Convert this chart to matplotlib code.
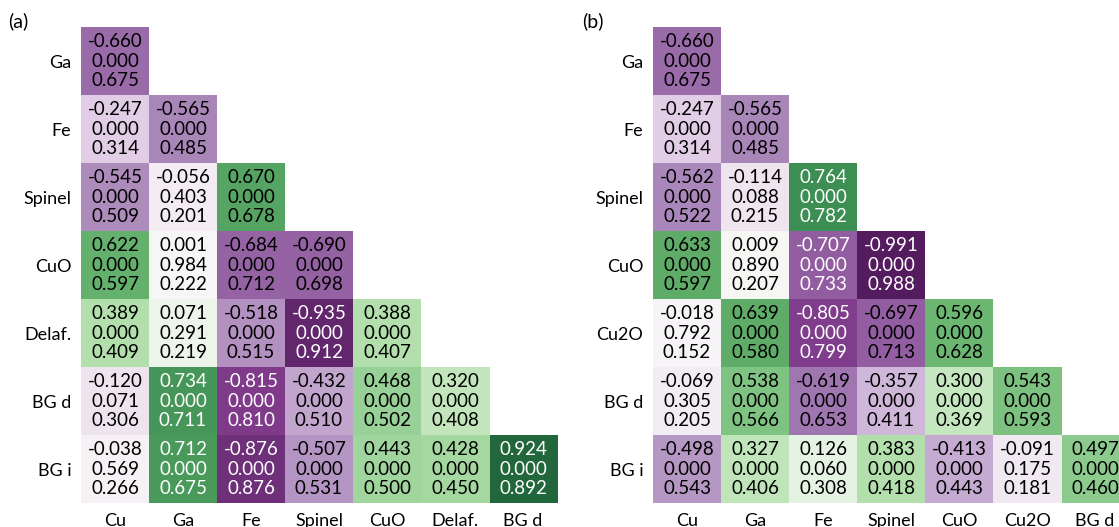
import numpy as np
import matplotlib

matplotlib.use("Agg")
import matplotlib.pyplot as plt

plt.rcParams["font.family"] = ["Lato", "DejaVu Sans"]

# (a) variables
rows_a = ["Ga", "Fe", "Spinel", "CuO", "Delaf.", "BG d", "BG i"]
cols_a = ["Cu", "Ga", "Fe", "Spinel", "CuO", "Delaf.", "BG d"]
r_a = [
    [-0.660],
    [-0.247, -0.565],
    [-0.545, -0.056, 0.670],
    [0.622, 0.001, -0.684, -0.690],
    [0.389, 0.071, -0.518, -0.935, 0.388],
    [-0.120, 0.734, -0.815, -0.432, 0.468, 0.320],
    [-0.038, 0.712, -0.876, -0.507, 0.443, 0.428, 0.924],
]
p_a = [
    [0.000],
    [0.000, 0.000],
    [0.000, 0.403, 0.000],
    [0.000, 0.984, 0.000, 0.000],
    [0.000, 0.291, 0.000, 0.000, 0.000],
    [0.071, 0.000, 0.000, 0.000, 0.000, 0.000],
    [0.569, 0.000, 0.000, 0.000, 0.000, 0.000, 0.000],
]
d_a = [
    [0.675],
    [0.314, 0.485],
    [0.509, 0.201, 0.678],
    [0.597, 0.222, 0.712, 0.698],
    [0.409, 0.219, 0.515, 0.912, 0.407],
    [0.306, 0.711, 0.810, 0.510, 0.502, 0.408],
    [0.266, 0.675, 0.876, 0.531, 0.500, 0.450, 0.892],
]

# (b) variables
rows_b = ["Ga", "Fe", "Spinel", "CuO", "Cu2O", "BG d", "BG i"]
cols_b = ["Cu", "Ga", "Fe", "Spinel", "CuO", "Cu2O", "BG d"]
r_b = [
    [-0.660],
    [-0.247, -0.565],
    [-0.562, -0.114, 0.764],
    [0.633, 0.009, -0.707, -0.991],
    [-0.018, 0.639, -0.805, -0.697, 0.596],
    [-0.069, 0.538, -0.619, -0.357, 0.300, 0.543],
    [-0.498, 0.327, 0.126, 0.383, -0.413, -0.091, 0.497],
]
p_b = [
    [0.000],
    [0.000, 0.000],
    [0.000, 0.088, 0.000],
    [0.000, 0.890, 0.000, 0.000],
    [0.792, 0.000, 0.000, 0.000, 0.000],
    [0.305, 0.000, 0.000, 0.000, 0.000, 0.000],
    [0.000, 0.000, 0.060, 0.000, 0.000, 0.175, 0.000],
]
d_b = [
    [0.675],
    [0.314, 0.485],
    [0.522, 0.215, 0.782],
    [0.597, 0.207, 0.733, 0.988],
    [0.152, 0.580, 0.799, 0.713, 0.628],
    [0.205, 0.566, 0.653, 0.411, 0.369, 0.593],
    [0.543, 0.406, 0.308, 0.418, 0.443, 0.181, 0.460],
]


def to_grid(tri):
    n = len(tri)
    grid = np.full((n, n), np.nan)
    for i, row in enumerate(tri):
        grid[i, :len(row)] = row
    return grid


def draw_panel(ax, r, p, d, rows, cols):
    grid = to_grid(r)
    ax.imshow(np.ma.masked_invalid(grid), cmap="PRGn", vmin=-1, vmax=1,
              alpha=0.9, aspect="auto", interpolation="nearest")
    for i in range(len(r)):
        for j in range(len(r[i])):
            color = "white" if abs(r[i][j]) >= 0.7 else "black"
            ax.text(j, i, f"{r[i][j]:.3f}\n{p[i][j]:.3f}\n{d[i][j]:.3f}",
                    ha="center", va="center", fontsize=13.5, color=color,
                    linespacing=1.2)
    ax.set_xticks(range(len(cols)))
    ax.set_xticklabels(cols, fontsize=13)
    ax.set_yticks(range(len(rows)))
    ax.set_yticklabels(rows, fontsize=13)
    ax.tick_params(length=0, pad=7)
    for s in ax.spines.values():
        s.set_visible(False)


fig = plt.figure(figsize=(11.19, 5.27), dpi=100)
ax_a = fig.add_axes([0.0724, 0.0455, 0.4254, 0.9032])
ax_b = fig.add_axes([0.5836, 0.0455, 0.4254, 0.9032])
draw_panel(ax_a, r_a, p_a, d_a, rows_a, cols_a)
draw_panel(ax_b, r_b, p_b, d_b, rows_b, cols_b)
fig.text(0.007, 0.96, "(a)", fontsize=14, va="center")
fig.text(0.52, 0.96, "(b)", fontsize=14, va="center")

fig.savefig("out.png", dpi=100)
